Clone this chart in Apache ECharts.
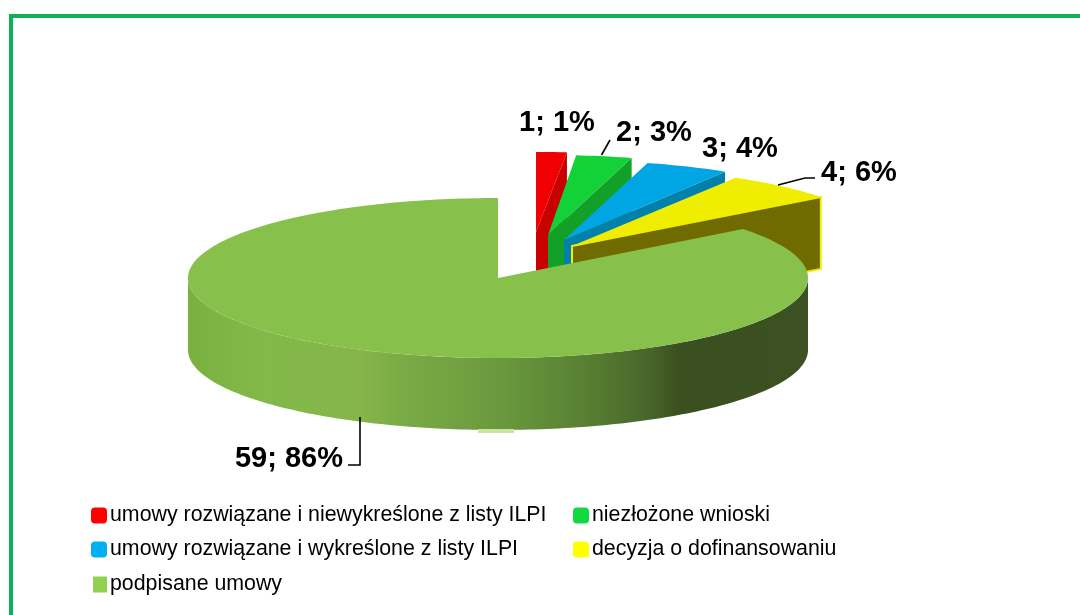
<!DOCTYPE html>
<html><head><meta charset="utf-8">
<style>html,body{margin:0;padding:0;background:#fff}#c{width:1080px;height:615px}</style>
<script src="https://cdn.jsdelivr.net/npm/echarts@6/dist/echarts.min.js"></script>
</head><body><div id="c"></div>
<script>
const categories = ['umowy rozwiązane i niewykreślone z listy ILPI','niezłożone wnioski','umowy rozwiązane i wykreślone z listy ILPI','decyzja o dofinansowaniu','podpisane umowy'];
const values = [1,2,3,4,59];
const legendColors = ['#ff0000','#12d93e','#00b0f0','#ffff00','#92d050'];
const topColors = ['#f00000','#12d238','#00a5e3','#f0ee00','#88c04c'];
const sideColors = ['#c80000','#12a028','#0080aa','#706b00','#88c04c'];
const explodeCentres = [[536,232],[548,235],[564,240],[572,246],[498,278]];
const radiiX = [340,310,310,315,310];
const labelPos = [[557,123],[654,133],[740,149],[859,173],[289,459]];
const leaders = [null,[[601.5,155],[610,140]],null,[[778,185],[805,178],[815,178]],[[360,417],[360,465],[348,465]]];
const legendPos = [[91,505],[573,505],[91,539],[573,539],[93,574]];
const RY=80, DEPTH=72;
const total = values.reduce((a,b)=>a+b,0);
const startFrac = values.map((v,i)=>values.slice(0,i).reduce((a,b)=>a+b,0)/total);

function pt(c,rx,a,dy){return [c[0]+rx*Math.sin(a), c[1]-RY*Math.cos(a)+(dy||0)];}
function arc(c,rx,a0,a1,dy){const n=Math.max(4,Math.ceil(Math.abs(a1-a0)/0.02));const r=[];for(let k=0;k<=n;k++)r.push(pt(c,rx,a0+(a1-a0)*k/n,dy));return r;}

function render(i){return function(params,api){
  const v=api.value(0);
  const c=explodeCentres[i], rx=radiiX[i];
  const a0=startFrac[i]*2*Math.PI, a1=a0+v/total*2*Math.PI;
  const kids=[];
  if(i<4){
    const e=pt(c,rx,a1);
    const face=[c,e,[e[0],e[1]+DEPTH],[c[0],c[1]+DEPTH]];
    kids.push({type:'polygon',shape:{points:face},style:{fill:sideColors[i],stroke:i===3?topColors[i]:null,lineWidth:i===3?2:0}});
  } else {
    const lo=Math.PI/2, hi=3*Math.PI/2;
    const wall=arc(c,rx,lo,hi,0).concat(arc(c,rx,hi,lo,DEPTH));
    kids.push({type:'polygon',shape:{points:wall},style:{fill:new echarts.graphic.LinearGradient(0,0,1,0,[
      {offset:0,color:'#7ab040'},{offset:0.12,color:'#82b949'},{offset:0.28,color:'#86b54a'},
      {offset:0.34,color:'#7bab45'},{offset:0.5,color:'#6a9a3e'},{offset:0.665,color:'#557a30'},
      {offset:0.745,color:'#47652a'},{offset:0.79,color:'#3b5020'},{offset:1,color:'#3c5122'}])}});
    const bx=c[0], by=c[1]+RY+DEPTH;
    kids.push({type:'rect',shape:{x:bx-20,y:by-1,width:36,height:4},style:{fill:'#c8e6a0'}});
  }
  kids.push({type:'polygon',shape:{points:[c].concat(arc(c,rx,a0,a1))},style:{fill:topColors[i]}});
  if(leaders[i]) kids.push({type:'polyline',shape:{points:leaders[i]},style:{fill:null,stroke:'#000',lineWidth:1.6}});
  kids.push({type:'text',z2:50,x:labelPos[i][0],y:labelPos[i][1],style:{
    text:v+'; '+Math.round(v/total*100)+'%',fill:'#000',align:'center',verticalAlign:'middle',
    font:'bold 29px "Liberation Sans", Arial, sans-serif'}});
  return {type:'group',children:kids};
};}

const chart=echarts.init(document.getElementById('c'),null,{renderer:'canvas'});
chart.setOption({
  animation:false,
  backgroundColor:'#fff',
  legend:categories.map((n,i)=>({
    data:[n],left:legendPos[i][0],top:legendPos[i][1],padding:0,selectedMode:false,
    itemWidth:i===4?14:16,itemHeight:16,icon:i===4?'rect':'roundRect',
    textStyle:{fontFamily:'Liberation Sans',fontSize:21.35,color:'#000',padding:[0,0,0,-2]}
  })),
  graphic:[{type:'polyline',z:100,shape:{points:[[11,640],[11,16],[1100,16]]},style:{fill:null,stroke:'#0bb059',lineWidth:4}}],
  series:categories.map((n,i)=>({
    type:'custom',name:n,coordinateSystem:'none',silent:true,clip:false,
    itemStyle:{color:legendColors[i]},
    data:[[values[i]]],renderItem:render(i),z:2+i
  }))
});
</script></body></html>
